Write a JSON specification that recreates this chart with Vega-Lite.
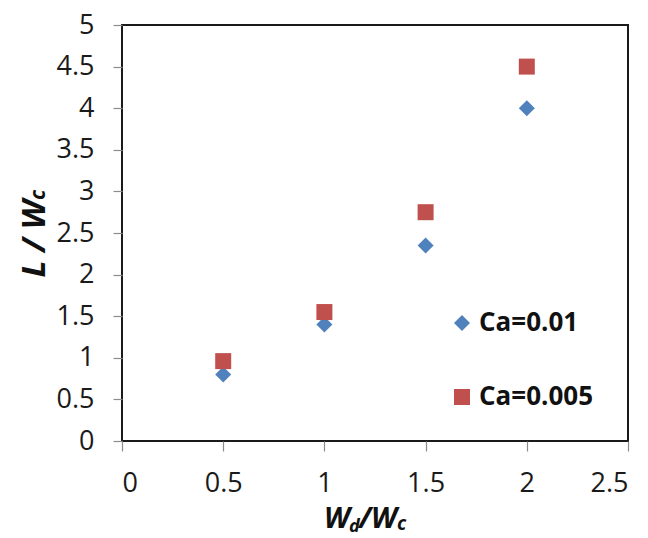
{
  "$schema": "https://vega.github.io/schema/vega-lite/v6.json",
  "width": 506,
  "height": 416,
  "autosize": {"type": "none"},
  "padding": {"left": 122, "top": 25, "right": 20, "bottom": 97},
  "background": "white",
  "config": {
    "view": {"stroke": "#1a1a1a", "strokeWidth": 2},
    "font": "Open Sans",
    "axis": {
      "domain": false,
      "grid": false,
      "tickColor": "#8c8c8c",
      "tickWidth": 1.2,
      "labelFont": "Open Sans",
      "labelFontSize": 27,
      "labelColor": "#1a1a1a",
      "title": null
    }
  },
  "data": {
    "values": [
      {"wd": 0.5, "l": 0.8, "series": "Ca=0.01"},
      {"wd": 1.0, "l": 1.4, "series": "Ca=0.01"},
      {"wd": 1.5, "l": 2.35, "series": "Ca=0.01"},
      {"wd": 2.0, "l": 4.0, "series": "Ca=0.01"},
      {"wd": 0.5, "l": 0.96, "series": "Ca=0.005"},
      {"wd": 1.0, "l": 1.55, "series": "Ca=0.005"},
      {"wd": 1.5, "l": 2.75, "series": "Ca=0.005"},
      {"wd": 2.0, "l": 4.5, "series": "Ca=0.005"}
    ]
  },
  "layer": [
    {
      "mark": {"type": "point", "filled": true, "opacity": 1, "size": 256},
      "encoding": {
        "x": {
          "field": "wd", "type": "quantitative",
          "scale": {"domain": [0, 2.5], "nice": false, "zero": false},
          "axis": {"values": [0, 0.5, 1, 1.5, 2, 2.5], "format": "~g", "tickSize": 10, "labelPadding": 19, "title": null}
        },
        "y": {
          "field": "l", "type": "quantitative",
          "scale": {"domain": [0, 5], "nice": false, "zero": false},
          "axis": {"values": [0, 0.5, 1, 1.5, 2, 2.5, 3, 3.5, 4, 4.5, 5], "format": "~g", "tickSize": 9, "labelPadding": 19, "title": null}
        },
        "color": {
          "field": "series", "type": "nominal",
          "scale": {"domain": ["Ca=0.01", "Ca=0.005"], "range": ["#4F81BD", "#C0504D"]},
          "legend": {
            "title": null,
            "orient": "none",
            "legendX": 327,
            "legendY": 285,
            "labelFont": "Open Sans",
            "labelFontSize": 26,
            "labelFontWeight": "bold",
            "labelColor": "#111111",
            "labelOffset": 4,
            "rowPadding": 48,
            "symbolSize": 256,
            "symbolStrokeWidth": 0
          }
        },
        "shape": {
          "field": "series", "type": "nominal",
          "scale": {"domain": ["Ca=0.01", "Ca=0.005"], "range": ["diamond", "square"]},
          "legend": null
        }
      }
    },
    {
      "data": {"values": [{}]},
      "mark": {"type": "text", "text": "W", "align": "right", "baseline": "alphabetic", "font": "Open Sans", "fontSize": 29, "fontWeight": "bold", "fontStyle": "italic", "color": "#111111"},
      "encoding": {"x": {"datum": 1.1265, "type": "quantitative"}, "y": {"datum": -1.046, "type": "quantitative"}}
    },
    {
      "data": {"values": [{}]},
      "mark": {"type": "text", "text": "d", "align": "left", "baseline": "alphabetic", "dy": 4, "dx": -1, "font": "Open Sans", "fontSize": 18, "fontWeight": "bold", "fontStyle": "italic", "color": "#111111"},
      "encoding": {"x": {"datum": 1.1265, "type": "quantitative"}, "y": {"datum": -1.046, "type": "quantitative"}}
    },
    {
      "data": {"values": [{}]},
      "mark": {"type": "text", "text": "/W", "align": "right", "baseline": "alphabetic", "font": "Open Sans", "fontSize": 29, "fontWeight": "bold", "fontStyle": "italic", "color": "#111111"},
      "encoding": {"x": {"datum": 1.3588, "type": "quantitative"}, "y": {"datum": -1.046, "type": "quantitative"}}
    },
    {
      "data": {"values": [{}]},
      "mark": {"type": "text", "text": "c", "align": "left", "baseline": "alphabetic", "dy": 2, "font": "Open Sans", "fontSize": 19, "fontWeight": "bold", "fontStyle": "italic", "color": "#111111"},
      "encoding": {"x": {"datum": 1.3588, "type": "quantitative"}, "y": {"datum": -1.046, "type": "quantitative"}}
    },
    {
      "data": {"values": [{}]},
      "mark": {"type": "text", "text": "L / W", "angle": 270, "align": "right", "baseline": "alphabetic", "font": "Open Sans", "fontSize": 33, "fontWeight": "bold", "fontStyle": "italic", "color": "#111111"},
      "encoding": {"x": {"datum": -0.38, "type": "quantitative"}, "y": {"datum": 2.897, "type": "quantitative"}}
    },
    {
      "data": {"values": [{}]},
      "mark": {"type": "text", "text": "c", "angle": 270, "align": "left", "baseline": "alphabetic", "dy": 0, "font": "Open Sans", "fontSize": 21, "fontWeight": "bold", "fontStyle": "italic", "color": "#111111"},
      "encoding": {"x": {"datum": -0.38, "type": "quantitative"}, "y": {"datum": 2.897, "type": "quantitative"}}
    }
  ]
}
